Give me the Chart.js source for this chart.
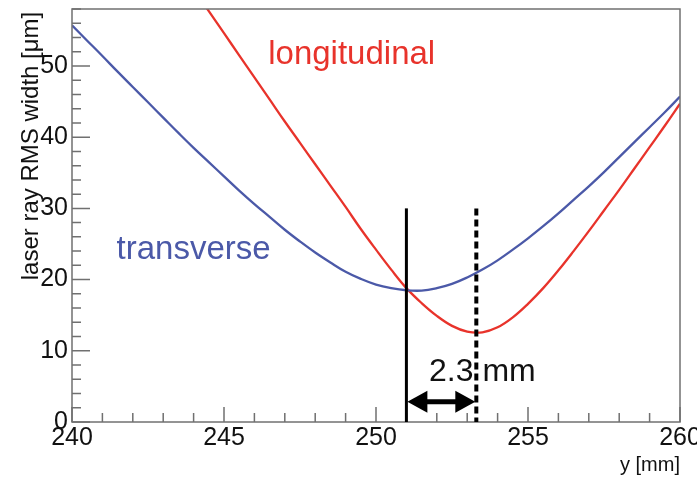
<!DOCTYPE html>
<html>
<head>
<meta charset="utf-8">
<script src="https://cdn.jsdelivr.net/npm/chart.js@4.4.1/dist/chart.umd.min.js"></script>
<style>
  html, body { margin: 0; padding: 0; background: #fff; }
  #wrap { width: 697px; height: 477px; }
</style>
</head>
<body>
<div id="wrap"><canvas id="widthChart" width="697" height="477"></canvas></div>
<script>
// beam position along y [mm], every 0.5 mm
const positions = [240, 240.5, 241, 241.5, 242, 242.5, 243, 243.5, 244, 244.5, 245, 245.5, 246, 246.5, 247, 247.5, 248, 248.5, 249, 249.5, 250, 250.5, 251, 251.5, 252, 252.5, 253, 253.5, 254, 254.5, 255, 255.5, 256, 256.5, 257, 257.5, 258, 258.5, 259, 259.5, 260];
// RMS widths [um]
const transverse = [55.7, 53.55, 51.4, 49.2, 47.05, 44.9, 42.75, 40.6, 38.5, 36.5, 34.5, 32.5, 30.6, 28.8, 27.0, 25.35, 23.8, 22.4, 21.1, 20.1, 19.3, 18.8, 18.5, 18.45, 18.8, 19.4, 20.3, 21.4, 22.7, 24.2, 25.8, 27.5, 29.3, 31.2, 33.1, 35.1, 37.2, 39.3, 41.4, 43.5, 45.7];
const longitudinal = [86.0, 82.9, 79.7, 76.5, 73.4, 70.2, 67.1, 63.9, 60.8, 57.7, 54.6, 51.5, 48.4, 45.3, 42.2, 39.2, 36.2, 33.2, 30.2, 27.1, 24.2, 21.4, 18.8, 16.7, 14.9, 13.5, 12.7, 12.6, 13.3, 14.7, 16.6, 18.8, 21.3, 24.0, 26.8, 29.7, 32.6, 35.6, 38.6, 41.6, 44.7];

const xTicks = [240, 245, 250, 255, 260];
const yTicks = [0, 10, 20, 30, 40, 50];

// focus positions: transverse and longitudinal
const focusT = 251.0;
const focusL = 253.3;
const markerTop = 30;
const arrowLevel = 2.85;

const BLUE = '#4b59a8';
const RED = '#e8332b';
const FONT = "'Liberation Sans', Arial, sans-serif";

function toPoints(ys) {
   return positions.map((x, i) => ({ x, y: ys[i] }));
}

// frame, inward ticks, markers and labels
const overlay = {
   id: 'overlay',
   afterDatasetsDraw(chart) {
      const { ctx, chartArea: a } = chart;
      const xs = chart.scales.x;
      const ys = chart.scales.y;
      ctx.save();

      // frame
      ctx.strokeStyle = '#707070';
      ctx.lineWidth = 1.5;
      ctx.strokeRect(a.left, a.top, a.right - a.left, a.bottom - a.top);

      // x ticks (major every 5, minor every 1)
      ctx.beginPath();
      for (let v = 240; v <= 260; v += 1) {
         const px = xs.getPixelForValue(v);
         const len = (v % 5 === 0) ? 15 : 9;
         ctx.moveTo(px, a.bottom);
         ctx.lineTo(px, a.bottom - len);
      }
      // y ticks (major every 10, minor every 2)
      for (let v = 0; v <= 58; v += 2) {
         const py = ys.getPixelForValue(v);
         const len = (v % 10 === 0) ? 18 : 9;
         ctx.moveTo(a.left, py);
         ctx.lineTo(a.left + len, py);
      }
      ctx.stroke();

      // focus markers
      const xT = xs.getPixelForValue(focusT);
      const xL = xs.getPixelForValue(focusL);
      const yTop = ys.getPixelForValue(markerTop);
      ctx.strokeStyle = '#000';
      ctx.lineWidth = 3;
      ctx.beginPath();
      ctx.moveTo(xT, yTop);
      ctx.lineTo(xT, a.bottom);
      ctx.stroke();

      ctx.lineWidth = 4;
      ctx.setLineDash([7, 4]);
      ctx.beginPath();
      ctx.moveTo(xL, yTop);
      ctx.lineTo(xL, a.bottom);
      ctx.stroke();
      ctx.setLineDash([]);

      // double arrow
      const yA = ys.getPixelForValue(arrowLevel);
      const head = 21, half = 11;
      ctx.lineWidth = 5;
      ctx.beginPath();
      ctx.moveTo(xT + head - 2, yA);
      ctx.lineTo(xL - head + 2, yA);
      ctx.stroke();
      ctx.fillStyle = '#000';
      ctx.beginPath();
      ctx.moveTo(xT + 1, yA);
      ctx.lineTo(xT + head, yA - half);
      ctx.lineTo(xT + head, yA + half);
      ctx.closePath();
      ctx.fill();
      ctx.beginPath();
      ctx.moveTo(xL - 1, yA);
      ctx.lineTo(xL - head, yA - half);
      ctx.lineTo(xL - head, yA + half);
      ctx.closePath();
      ctx.fill();

      // curve labels
      ctx.textAlign = 'center';
      ctx.textBaseline = 'middle';
      ctx.font = '33px ' + FONT;
      ctx.fillStyle = RED;
      ctx.fillText('longitudinal', xs.getPixelForValue(249.2), ys.getPixelForValue(51.6));
      ctx.fillStyle = BLUE;
      ctx.fillText('transverse', xs.getPixelForValue(244.0), ys.getPixelForValue(24.2));
      ctx.fillStyle = '#111';
      ctx.font = '32px ' + FONT;
      ctx.fillText('2.3 mm', xs.getPixelForValue(253.5), ys.getPixelForValue(7.0));

      // axis titles
      ctx.fillStyle = '#111';
      ctx.textBaseline = 'alphabetic';
      ctx.font = '20px ' + FONT;
      ctx.textAlign = 'right';
      ctx.fillText('y [mm]', a.right, 471);
      ctx.save();
      ctx.translate(38, 146);
      ctx.rotate(-Math.PI / 2);
      ctx.textAlign = 'center';
      ctx.font = '24px ' + FONT;
      ctx.fillText('laser ray RMS width [\u03bcm]', 0, 0);
      ctx.restore();

      ctx.restore();
   }
};

const ctx = document.getElementById('widthChart').getContext('2d');
new Chart(ctx, {
   type: 'line',
   data: {
      datasets: [
         {
            label: 'transverse',
            data: toPoints(transverse),
            borderColor: BLUE,
            borderWidth: 2.3,
            pointRadius: 0,
            tension: 0.4
         },
         {
            label: 'longitudinal',
            data: toPoints(longitudinal),
            borderColor: RED,
            borderWidth: 2.3,
            pointRadius: 0,
            tension: 0.4
         }
      ]
   },
   options: {
      responsive: false,
      animation: false,
      layout: { padding: { top: 9, right: 17, left: 0, bottom: 0 } },
      plugins: {
         legend: { display: false },
         tooltip: { enabled: false }
      },
      scales: {
         x: {
            type: 'linear',
            min: 240,
            max: 260,
            afterFit: (s) => { s.height = 55; s.paddingLeft = 0; s.paddingRight = 0; },
            afterBuildTicks: (s) => { s.ticks = xTicks.map(v => ({ value: v })); },
            grid: { display: false, drawTicks: false },
            border: { display: false },
            ticks: {
               color: '#111',
               padding: 1,
               maxRotation: 0,
               font: { family: FONT, size: 25 }
            }
         },
         y: {
            min: 0,
            max: 58,
            afterFit: (s) => { s.width = 72; s.paddingTop = 0; s.paddingBottom = 0; },
            afterBuildTicks: (s) => { s.ticks = yTicks.map(v => ({ value: v })); },
            grid: { display: false, drawTicks: false },
            border: { display: false },
            ticks: {
               color: '#111',
               padding: 4,
               font: { family: FONT, size: 25 }
            }
         }
      }
   },
   plugins: [overlay]
});
</script>
</body>
</html>
